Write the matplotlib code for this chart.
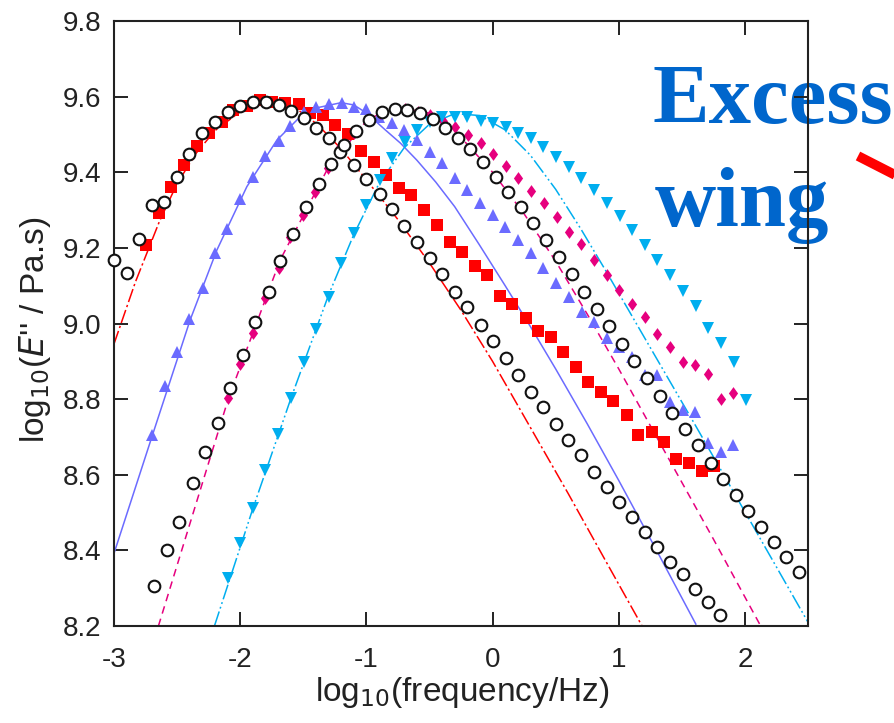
import matplotlib
matplotlib.use("Agg")
import matplotlib.pyplot as plt
from matplotlib.lines import Line2D

# ---------------- data ----------------
red_x = [-2.746, -2.64, -2.548, -2.442, -2.344, -2.25, -2.145, -2.053, -1.947, -1.841,
         -1.749, -1.643, -1.537, -1.444, -1.344, -1.246, -1.145, -1.04, -0.942, -0.841,
         -0.744, -0.643, -0.540, -0.444, -0.341, -0.241, -0.143, -0.042, 0.056, 0.156,
         0.262, 0.357, 0.46, 0.56, 0.659, 0.759, 0.857, 0.958, 1.063, 1.156,
         1.262, 1.36, 1.457, 1.558, 1.659, 1.757]
red_y = [9.207, 9.291, 9.361, 9.418, 9.469, 9.503, 9.534, 9.565, 9.574, 9.592,
         9.587, 9.582, 9.580, 9.558, 9.551, 9.525, 9.501, 9.456, 9.427, 9.392,
         9.359, 9.339, 9.299, 9.260, 9.216, 9.190, 9.152, 9.128, 9.073, 9.051,
         9.014, 8.980, 8.963, 8.924, 8.884, 8.845, 8.818, 8.794, 8.757, 8.704,
         8.712, 8.686, 8.642, 8.631, 8.609, 8.622]

circA_x = [-3.0, -2.90, -2.80, -2.70, -2.603, -2.497, -2.402, -2.299, -2.198, -2.10,
           -2.0, -1.899, -1.796, -1.696, -1.598, -1.498, -1.397, -1.299, -1.206, -1.095,
           -1.0, -0.894, -0.796, -0.698, -0.598, -0.498, -0.40, -0.299, -0.201, -0.095,
           0.002, 0.103, 0.204, 0.302, 0.402, 0.5, 0.6, 0.704, 0.804, 0.905,
           1.002, 1.103, 1.206, 1.307, 1.405, 1.506, 1.603, 1.704, 1.804]
circA_y = [9.168, 9.133, 9.223, 9.313, 9.322, 9.387, 9.447, 9.503, 9.534, 9.559,
           9.576, 9.585, 9.585, 9.578, 9.562, 9.544, 9.516, 9.490, 9.454, 9.419,
           9.382, 9.342, 9.302, 9.259, 9.215, 9.174, 9.130, 9.084, 9.043, 8.996,
           8.954, 8.908, 8.864, 8.820, 8.778, 8.733, 8.692, 8.652, 8.608, 8.567,
           8.529, 8.487, 8.448, 8.410, 8.370, 8.337, 8.298, 8.263, 8.229]

circB_x = [-2.68, -2.577, -2.482, -2.375, -2.278, -2.177, -2.079, -1.979, -1.881, -1.775,
           -1.683, -1.582, -1.476, -1.378, -1.278, -1.18, -1.079, -0.976, -0.876, -0.775,
           -0.677, -0.577, -0.474, -0.373, -0.275, -0.175, -0.074, 0.024, 0.124, 0.228,
           0.323, 0.426, 0.526, 0.627, 0.725, 0.825, 0.923, 1.024, 1.121, 1.228,
           1.325, 1.426, 1.526, 1.625, 1.730, 1.828, 1.929, 2.026, 2.127, 2.228,
           2.325, 2.426]
circB_y = [8.306, 8.401, 8.476, 8.577, 8.661, 8.736, 8.830, 8.917, 9.003, 9.084,
           9.165, 9.237, 9.307, 9.369, 9.422, 9.472, 9.510, 9.538, 9.559, 9.566,
           9.565, 9.557, 9.540, 9.518, 9.491, 9.461, 9.428, 9.388, 9.349, 9.309,
           9.265, 9.221, 9.177, 9.131, 9.084, 9.038, 8.993, 8.946, 8.902, 8.855,
           8.809, 8.764, 8.720, 8.679, 8.632, 8.589, 8.546, 8.505, 8.463, 8.423,
           8.383, 8.344]

tri_x = [-2.70, -2.595, -2.497, -2.402, -2.296, -2.198, -2.106, -2.0, -1.899, -1.802,
         -1.696, -1.603, -1.498, -1.397, -1.299, -1.194, -1.095, -1.0, -0.902, -0.796,
         -0.698, -0.598, -0.498, -0.40, -0.299, -0.201, -0.1, 0.002, 0.098, 0.2,
         0.302, 0.402, 0.5, 0.606, 0.706, 0.804, 0.905, 1.002, 1.109, 1.206,
         1.307, 1.405, 1.506, 1.603, 1.704, 1.81, 1.907]
tri_y = [8.705, 8.835, 8.925, 9.012, 9.093, 9.186, 9.250, 9.328, 9.388, 9.443,
         9.483, 9.522, 9.559, 9.573, 9.580, 9.584, 9.573, 9.566, 9.545, 9.529,
         9.512, 9.485, 9.454, 9.425, 9.384, 9.353, 9.318, 9.287, 9.256, 9.221,
         9.186, 9.146, 9.106, 9.071, 9.031, 9.003, 8.961, 8.939, 8.912, 8.864,
         8.864, 8.793, 8.771, 8.766, 8.685, 8.661, 8.679]

dia_x = [-2.098, -2.0, -1.899, -1.802, -1.696, -1.603, -1.506, -1.405, -1.304, -1.206,
         -1.1, -0.995, -0.889, -0.79, -0.69, -0.59, -0.492, -0.39, -0.294, -0.196,
         -0.095, 0.002, 0.103, 0.204, 0.307, 0.407, 0.508, 0.606, 0.704, 0.804,
         0.905, 1.002, 1.109, 1.206, 1.307, 1.407, 1.51, 1.606, 1.706, 1.81, 1.907]
dia_y = [8.804, 8.892, 8.976, 9.068, 9.146, 9.230, 9.287, 9.349, 9.410, 9.468,
         9.503, 9.538, 9.556, 9.566, 9.567, 9.560, 9.551, 9.535, 9.520, 9.498,
         9.477, 9.448, 9.416, 9.386, 9.350, 9.318, 9.281, 9.243, 9.210, 9.168,
         9.128, 9.089, 9.052, 9.018, 8.971, 8.939, 8.897, 8.890, 8.866, 8.800, 8.815]

cyan_x = [-2.098, -2.0, -1.899, -1.802, -1.701, -1.598, -1.498, -1.397, -1.299, -1.201,
          -1.1, -1.0, -0.894, -0.796, -0.696, -0.598, -0.498, -0.40, -0.299, -0.201,
          -0.095, 0.005, 0.103, 0.204, 0.302, 0.402, 0.505, 0.606, 0.704, 0.804,
          0.905, 1.011, 1.109, 1.206, 1.307, 1.407, 1.51, 1.611, 1.71, 1.81,
          1.91, 2.008]
cyan_y = [8.326, 8.420, 8.511, 8.612, 8.708, 8.802, 8.899, 8.985, 9.071, 9.160,
          9.240, 9.313, 9.380, 9.437, 9.481, 9.512, 9.534, 9.545, 9.547, 9.545,
          9.536, 9.531, 9.520, 9.504, 9.490, 9.466, 9.441, 9.413, 9.384, 9.353,
          9.318, 9.284, 9.247, 9.208, 9.168, 9.128, 9.086, 9.046, 8.987, 8.948,
          8.899, 8.797]

# fitted curves
fit_red_x = [-3.0, -2.83, -2.64, -2.5, -2.35, -2.2, -2.0, -1.85, -1.7, -1.55,
             -1.39, -1.2, -1.0, -0.75, -0.5, -0.25, 0.0, 0.3, 0.6, 0.9, 1.185]
fit_red_y = [8.946, 9.11, 9.27, 9.37, 9.45, 9.51, 9.56, 9.583, 9.585, 9.567,
             9.527, 9.462, 9.38, 9.275, 9.16, 9.035, 8.9, 8.725, 8.55, 8.37, 8.2]

fit_blue_x = [-3.0, -2.70, -2.397, -2.185, -1.947, -1.709, -1.47, -1.2, -1.1, -1.0,
              -0.85, -0.73, -0.6, -0.45, -0.3, -0.108, 0.1, 0.3, 0.5, 0.75,
              1.0, 1.3, 1.611]
fit_blue_y = [8.392, 8.70, 9.009, 9.194, 9.362, 9.485, 9.565, 9.584, 9.578, 9.557,
              9.512, 9.477, 9.432, 9.374, 9.309, 9.21, 9.10, 8.992, 8.88, 8.735,
              8.585, 8.40, 8.205]

fit_mag_x = [-2.648, -2.4, -2.093, -1.683, -1.312, -0.995, -0.85, -0.7, -0.5, -0.25,
             0.0, 0.25, 0.5, 0.75, 1.0, 1.25, 1.5, 1.75, 2.125]
fit_mag_y = [8.2, 8.469, 8.802, 9.168, 9.406, 9.538, 9.561, 9.569, 9.556, 9.492,
             9.40, 9.29, 9.165, 9.025, 8.88, 8.73, 8.58, 8.43, 8.2]

fit_cyan_x = [-2.204, -1.9, -1.6, -1.3, -1.1, -0.9, -0.7, -0.5, -0.3, -0.1,
              0.1, 0.3, 0.5, 0.7, 0.9, 1.2, 1.6, 2.0, 2.5]
fit_cyan_y = [8.2, 8.51, 8.80, 9.075, 9.235, 9.37, 9.465, 9.527, 9.555, 9.55,
              9.512, 9.445, 9.355, 9.25, 9.138, 8.965, 8.735, 8.502, 8.21]

xticks = [-3, -2, -1, 0, 1, 2]
yticks = [8.2, 8.4, 8.6, 8.8, 9.0, 9.2, 9.4, 9.6, 9.8]

# ---------------- style ----------------
NARROW = ['Liberation Sans Narrow', 'Liberation Sans', 'DejaVu Sans']
plt.rcParams['font.family'] = NARROW
plt.rcParams['mathtext.fontset'] = 'custom'
plt.rcParams['mathtext.rm'] = 'Liberation Sans Narrow'
plt.rcParams['mathtext.it'] = 'Liberation Sans Narrow:italic'

C_RED = '#FF0000'
C_BLUE = '#6B6BFF'
C_MAG = '#E6007E'
C_CYAN = '#00AEEF'

fig = plt.figure(figsize=(8.95, 7.23), dpi=100)
ax = fig.add_axes([114 / 895, 1 - 626 / 723, 694 / 895, 605 / 723])

lw = 1.1
ax.plot(fit_red_x, fit_red_y, color=C_RED, lw=lw, dashes=(9, 2, 1.5, 2), zorder=2)
ax.plot(fit_blue_x, fit_blue_y, color=C_BLUE, lw=lw, zorder=2)
ax.plot(fit_mag_x, fit_mag_y, color=C_MAG, lw=lw, dashes=(5, 3.5), zorder=2)
ax.plot(fit_cyan_x, fit_cyan_y, color=C_CYAN, lw=lw, dashes=(10, 2, 1.2, 2, 1.2, 2), zorder=2)

ax.plot(red_x, red_y, 's', color=C_RED, ms=8.6, mew=0, zorder=3, clip_on=False)
ax.plot(tri_x, tri_y, '^', color=C_BLUE, ms=8.2, mew=0, zorder=3, clip_on=False)
diamond = [(0, 1), (0.72, 0), (0, -1), (-0.72, 0), (0, 1)]
ax.plot(dia_x, dia_y, marker=diamond, ls='none', color=C_MAG, ms=9.2, mew=0, zorder=3, clip_on=False)
ax.plot(cyan_x, cyan_y, 'v', color=C_CYAN, ms=8.2, mew=0, zorder=3, clip_on=False)
ax.plot(circA_x, circA_y, 'o', mfc='white', mec='#111111', ms=8.4, mew=1.5, zorder=4, clip_on=False)
ax.plot(circB_x, circB_y, 'o', mfc='white', mec='#111111', ms=8.4, mew=1.5, zorder=4, clip_on=False)

ax.set_xlim(-3, 2.5)
ax.set_ylim(8.2, 9.8)
ax.set_xticks(xticks)
ax.set_xticklabels([str(v) for v in xticks])
ax.set_yticks(yticks)
ax.set_yticklabels(['%.1f' % v for v in yticks])
ax.tick_params(direction='in', length=10, width=1.4, top=True, right=True,
               labelsize=20, colors='#222222')
ax.tick_params(axis='x', pad=15)
ax.tick_params(axis='y', pad=9)
for s in ax.spines.values():
    s.set_linewidth(1.5)
    s.set_color('#222222')

fig.text(462 / 895, 1 - 693 / 723, r'log$_{10}$(frequency/Hz)', ha='center', va='center',
         fontsize=24, color='#222222')
fig.text(35 / 895, 1 - 330 / 723, r"log$_{10}$($\mathit{E}$'' / Pa.s)", ha='center', va='center',
         rotation=90, fontsize=24, color='#222222')

# annotation "Excess wing" (drawn below the spines)
ax.text((653 - 114) / 694, (626 - 123) / 605, 'Excess', transform=ax.transAxes,
        family=['Liberation Serif', 'DejaVu Serif'], fontweight='bold', fontsize=61,
        color='#0066CC', ha='left', va='baseline', clip_on=False, zorder=1)
ax.text((655 - 114) / 694, (626 - 226) / 605, 'wing', transform=ax.transAxes,
        family=['Liberation Serif', 'DejaVu Serif'], fontweight='bold', fontsize=61,
        color='#0066CC', ha='left', va='baseline', clip_on=False, zorder=1)

# red arrow fragment at the top-right edge
fig.add_artist(Line2D([858 / 895, 905 / 895], [1 - 156 / 723, 1 - 180 / 723],
                      transform=fig.transFigure, color=C_RED, lw=7, solid_capstyle='butt'))

fig.savefig('out.png', dpi=100)
